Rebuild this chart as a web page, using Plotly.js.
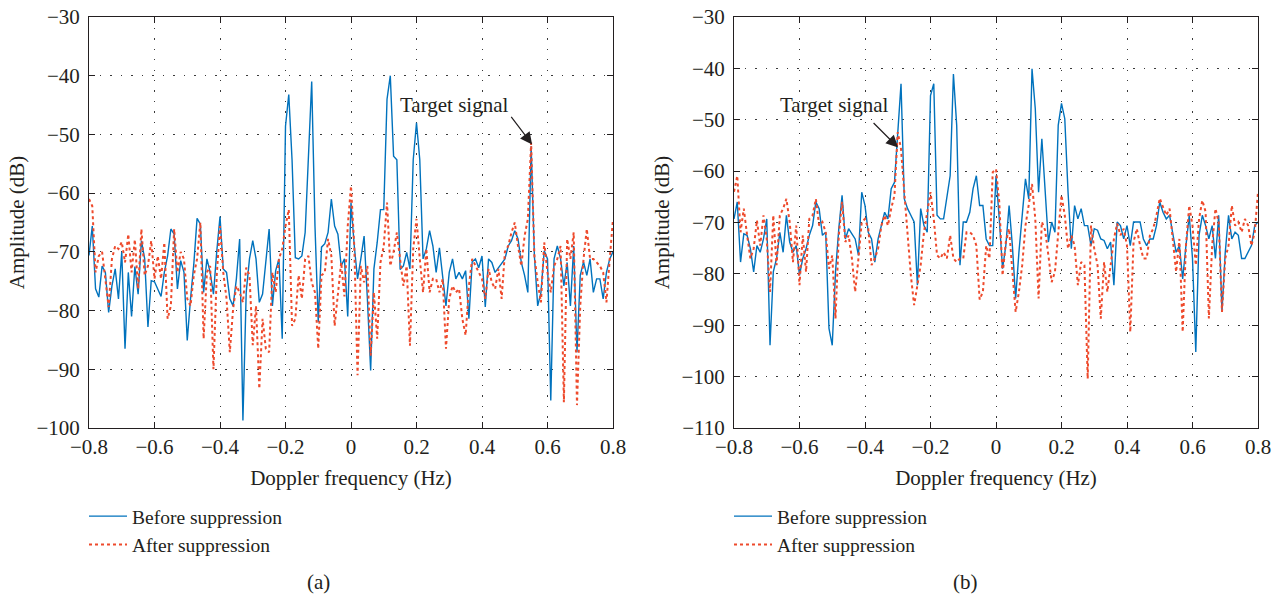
<!DOCTYPE html>
<html>
<head>
<meta charset="utf-8">
<script src="https://cdn.plot.ly/plotly-3.0.1.min.js"></script>
<style>html,body{margin:0;padding:0;background:#fff;}#chart{width:1282px;height:597px;}</style>
</head>
<body>
<div id="chart"></div>
<script>
// Doppler frequency grid: -0.8 Hz to 0.8 Hz, step 0.01 Hz (161 samples)
const freqStart = -0.8;
const freqStep = 0.01;

// (a) amplitudes in dB
const beforeA = [
-70.6,-65.6,-76.3,-77.7,-72.4,-73.5,-80.3,-75.8,-72.9,-78,
-70,-86.5,-73.5,-81,-72.5,-77.2,-68.1,-71.2,-82.8,-74.9,
-75.1,-76.3,-77.6,-73.5,-70.7,-66.1,-67,-76.3,-71.5,-73.5,
-85.1,-78,-72.1,-64.3,-65.3,-76.9,-71.2,-73.5,-77.2,-70,
-64,-72.9,-73.5,-78,-79.2,-74.6,-67.8,-98.7,-76.9,-71.2,
-68.1,-71.2,-78.6,-77.2,-71.2,-66.1,-79.2,-73.2,-71.2,-84.8,
-48.6,-43.2,-54.3,-71,-71.2,-70.7,-66.7,-54.3,-41,-65.6,
-82,-69.2,-68.6,-66.7,-61,-65.6,-67,-72.4,-71.2,-81,
-61.6,-69,-74.6,-71.2,-67.3,-78,-90.2,-72.9,-68.4,-62.8,
-62.8,-44,-40,-53.7,-54.3,-73,-72.4,-70.1,-72.9,-54.3,
-48,-54.3,-71.2,-69.5,-66.4,-69,-73.5,-69.3,-74,-79.2,
-73.5,-71.2,-74.6,-73.5,-74.6,-73.2,-81.4,-71.7,-71.2,-72.7,
-70.7,-79.4,-71.2,-71.8,-73.5,-72.7,-72.1,-71.2,-69,-68.1,
-66.4,-67.8,-71.8,-74,-76.9,-52,-70.7,-79.2,-76.9,-69.8,
-71.2,-95.3,-71.2,-69,-71.2,-75.8,-71.8,-79.2,-69,-87.1,
-74,-71.7,-74,-71.2,-76.9,-74.6,-74.6,-78,-73.5,-71.2,
-70
];
const afterA = [
-61,-62.2,-73.5,-70.7,-70,-74.6,-79.4,-71.2,-69,-69.5,
-68.3,-71.8,-67,-73.5,-67.9,-76.3,-66.1,-74,-72.4,-68.1,
-74.6,-70.7,-74.6,-68.4,-81.4,-79.2,-66.1,-73.5,-70,-71.2,
-78,-79.2,-74,-71.2,-65,-84.8,-73.5,-72.4,-90,-74,
-65.6,-73.5,-78,-87.1,-79.7,-75.8,-76.9,-78.6,-72.7,-74,
-85.9,-79.2,-93.3,-81.4,-86.5,-87.1,-73.5,-76.9,-71.2,-69.5,
-65.6,-62.8,-82.6,-81.4,-74,-78,-71.2,-70.7,-75.2,-76.9,
-86.5,-74,-73.5,-67.8,-70.7,-82.6,-76.9,-71.8,-77.6,-65.6,
-58.8,-69,-91,-72.4,-75.2,-72.4,-87.7,-76.9,-84.8,-71.8,
-69,-61.6,-72.4,-70,-66.7,-71.2,-75.8,-72.4,-86,-69.5,
-64.4,-71.2,-76.9,-69.5,-76.9,-74.6,-74.6,-76.9,-74.6,-86.5,
-78,-75.8,-76.9,-76.3,-81.4,-84.2,-75.8,-71.2,-72.4,-73.5,
-74.6,-78,-72.9,-75.2,-76.3,-72.9,-78,-70,-69,-66.7,
-65,-69,-72.4,-67.3,-64.4,-51.4,-70.7,-75.2,-78.6,-68.4,
-73.5,-76.9,-72.4,-71.2,-69,-95.6,-67.8,-71.2,-66.7,-96.1,
-79.2,-71.2,-66.1,-71.2,-71.2,-71.8,-72.4,-73.5,-78.6,-71.2,
-64.4
];

// (b) amplitudes in dB
const beforeB = [
-69.3,-66,-77.7,-72.2,-72.5,-75.1,-79.6,-74.5,-75.8,-73.2,
-69.3,-93.9,-79.6,-77,-71.9,-75.8,-68.6,-73.8,-75.8,-74.5,
-80.3,-77,-75.1,-72.5,-70.6,-66,-67.3,-72.5,-71.9,-90.6,
-93.9,-79.6,-71.2,-64.7,-73.2,-71.2,-72.2,-73.2,-76.4,-64.1,
-66.7,-71.9,-73.2,-77.7,-73.2,-70.6,-68,-69.3,-63.4,-62.2,
-53,-43,-65.4,-67.3,-68.6,-69.9,-82.2,-67.3,-70.6,-71.9,
-45.3,-43,-68.6,-69.3,-69.3,-65.4,-60.9,-41.1,-51.1,-78.3,
-69.9,-69.9,-68,-63.4,-60.9,-66.7,-66.7,-73.2,-74.5,-74.5,
-60.9,-69.3,-79,-74.5,-66.7,-74.5,-84.8,-75.8,-68.6,-61.5,
-65.4,-40.1,-47.9,-64.1,-53.7,-64.1,-73.8,-69.9,-71.9,-51.1,
-46.8,-49.8,-64.1,-75.1,-66.7,-69.3,-67.3,-70.6,-70.6,-74.5,
-71.2,-71.5,-73.2,-73.5,-75.1,-73.8,-82.2,-69.9,-70.6,-73.2,
-70.6,-74.5,-69.9,-69.9,-69.9,-73.2,-74.5,-73.2,-73.2,-70.6,
-66,-68,-69.3,-68.6,-71.9,-75.8,-74.5,-81,-74.5,-68.6,
-77,-95.2,-72.5,-68.6,-70.6,-73.2,-70.6,-77,-68.6,-87.4,
-75.8,-68.6,-73.2,-71.9,-72.5,-77,-77,-75.8,-74.5,-70.6,
-69.9
];
const afterB = [
-64,-60.9,-71.9,-67.3,-72.5,-77,-75.1,-69.6,-74.5,-68.6,
-73.2,-83.5,-68.6,-78.3,-68.6,-67.3,-65.4,-69.9,-77.7,-70.6,
-82.2,-72.5,-79.6,-69.3,-68.6,-65.4,-70.6,-69.9,-71.9,-79,
-76.4,-88.7,-72.5,-66,-73.8,-72.5,-77,-83.5,-77,-69.9,
-69.3,-71.2,-78.3,-77,-75.1,-70.6,-68.6,-70.6,-67.3,-64.7,
-52.4,-55.7,-64.1,-73.2,-80.3,-86.1,-82.2,-78.3,-71.9,-68,
-64.1,-69.3,-76.4,-77,-75.8,-77,-72.5,-77,-77.7,-77,
-77,-71.9,-71.9,-72.5,-74.5,-85,-83.5,-74.5,-77,-60.2,
-59.6,-66,-80.3,-73.8,-71.2,-79.6,-87.4,-83.5,-78.3,-70.6,
-66.7,-62.5,-69.3,-84.8,-69.9,-71.5,-76.4,-81.6,-79.6,-71.9,
-64.7,-68.6,-75.1,-72.5,-74.5,-82.2,-77.7,-78.3,-100.4,-70.6,
-75.1,-78.3,-88.7,-77.7,-83.5,-78.3,-73.2,-70.2,-72.5,-71.2,
-74.5,-91.3,-73.8,-71.2,-74.5,-77,-77,-72.5,-71.2,-68.6,
-65.3,-67,-68.6,-67.3,-73.2,-79.6,-73.2,-91.3,-74.5,-66.7,
-70.6,-78.3,-69.3,-65.7,-67.9,-88.7,-74.5,-67.3,-69.9,-87.4,
-77,-74.5,-66.7,-70.6,-69.9,-71.9,-69.3,-70.6,-74.5,-71.9,
-64.1
];

const seriesNames = ['Before suppression', 'After suppression'];
const panelLabels = ['(a)', '(b)'];
const annotationText = 'Target signal';

const BLUE = '#0072BD';
const RED = '#EE4A2C';
const INK = '#231F20';
const FONT = 'Liberation Serif, Times New Roman, serif';
const FS = 21;

function lineTrace(y, name, isBefore, xa, ya, legendId) {
  return {
    type: 'scatter', mode: 'lines', y: y, x0: freqStart, dx: freqStep,
    name: name, xaxis: xa, yaxis: ya, legend: legendId,
    line: isBefore ? {color: BLUE, width: 1.4} : {color: RED, width: 2, dash: 'dot'},
    hoverinfo: 'skip'
  };
}

const data = [
  lineTrace(beforeA, seriesNames[0], true, 'x', 'y', 'legend'),
  lineTrace(afterA, seriesNames[1], false, 'x', 'y', 'legend'),
  lineTrace(beforeB, seriesNames[0], true, 'x2', 'y2', 'legend2'),
  lineTrace(afterB, seriesNames[1], false, 'x2', 'y2', 'legend2')
];

// plot area: 89..1258 px horizontally, 17..428 px vertically
const ML = 89, MR = 24, MT = 17, MB = 169;
const PW = 1282 - ML - MR, PH = 597 - MT - MB;
const px = v => (v - ML) / PW;
const py = v => (597 - MB - v) / PH;

const axisCommon = {
  showline: true, linecolor: INK, linewidth: 1, mirror: 'ticks',
  ticks: 'inside', ticklen: 6, tickcolor: INK, tickwidth: 1,
  showgrid: true, gridcolor: '#3a3a3a', gridwidth: 1, griddash: '1.5px,9px',
  zeroline: false, tickfont: {family: FONT, size: FS, color: INK},
  fixedrange: true
};
const xCommon = Object.assign({}, axisCommon, {
  range: [-0.8, 0.8], tick0: -0.8, dtick: 0.2, ticklabelstandoff: 0,
  title: {text: 'Doppler frequency (Hz)', font: {family: FONT, size: FS, color: INK}, standoff: 12}
});
const yCommon = Object.assign({}, axisCommon, {
  dtick: 10, ticklabelstandoff: 4,
  title: {text: 'Amplitude (dB)', font: {family: FONT, size: FS, color: INK}, standoff: 6}
});

const legendCommon = {
  font: {family: FONT, size: 19.5, color: INK},
  bgcolor: 'rgba(0,0,0,0)', borderwidth: 0, xanchor: 'left', yanchor: 'top',
  itemwidth: 38, tracegroupgap: 0, itemclick: false, itemdoubleclick: false
};

const labelFont = {family: FONT, size: FS, color: INK};

const layout = {
  width: 1282, height: 597,
  margin: {l: ML, r: MR, t: MT, b: MB, pad: 0},
  paper_bgcolor: '#fff', plot_bgcolor: '#fff',
  font: labelFont,
  xaxis: Object.assign({}, xCommon, {domain: [0, 524 / PW], anchor: 'y'}),
  yaxis: Object.assign({}, yCommon, {range: [-100, -30], anchor: 'x', domain: [0, 1]}),
  xaxis2: Object.assign({}, xCommon, {domain: [(734 - ML) / PW, 1], anchor: 'y2'}),
  yaxis2: Object.assign({}, yCommon, {range: [-110, -30], anchor: 'x2', domain: [0, 1]}),
  legend: Object.assign({}, legendCommon, {x: px(84), y: py(497)}),
  legend2: Object.assign({}, legendCommon, {x: px(729), y: py(497)}),
  showlegend: true,
  annotations: [
    {xref: 'x', yref: 'y', x: 0.315, y: -45, text: annotationText, showarrow: false,
     xanchor: 'center', yanchor: 'middle', font: labelFont},
    {xref: 'x', yref: 'y', x: 0.553, y: -51.7, text: '', showarrow: true,
     axref: 'pixel', ayref: 'pixel', ax: -22, ay: -29,
     arrowhead: 2, arrowsize: 2, arrowwidth: 1.2, arrowcolor: INK},
    {xref: 'x2', yref: 'y2', x: -0.492, y: -47.1, text: annotationText, showarrow: false,
     xanchor: 'center', yanchor: 'middle', font: labelFont},
    {xref: 'x2', yref: 'y2', x: -0.299, y: -55.4, text: '', showarrow: true,
     axref: 'pixel', ayref: 'pixel', ax: -26, ay: -26,
     arrowhead: 2, arrowsize: 2, arrowwidth: 1.2, arrowcolor: INK},
    {xref: 'paper', yref: 'paper', x: px(318), y: py(582), text: panelLabels[0],
     xanchor: 'center', yanchor: 'middle', showarrow: false, font: labelFont},
    {xref: 'paper', yref: 'paper', x: px(965), y: py(582), text: panelLabels[1],
     xanchor: 'center', yanchor: 'middle', showarrow: false, font: labelFont}
  ]
};

Plotly.newPlot('chart', data, layout, {displayModeBar: false, staticPlot: true});
</script>
</body>
</html>
